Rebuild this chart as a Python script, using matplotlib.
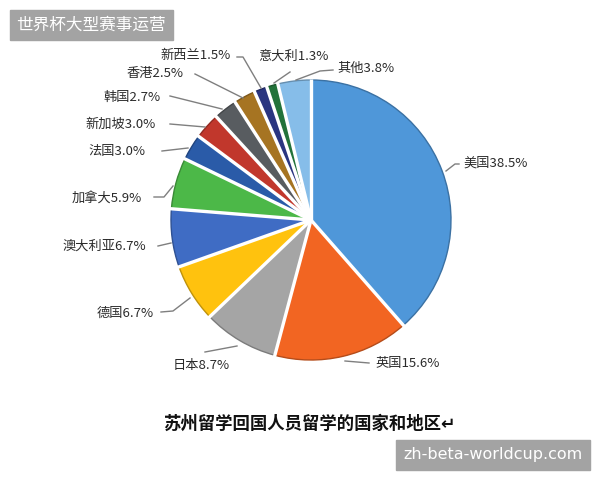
import matplotlib
matplotlib.use("Agg")
import matplotlib.pyplot as plt
import numpy as np
from matplotlib.patches import Rectangle
from matplotlib.colors import to_rgb

plt.rcParams['font.family'] = ['Noto Sans CJK SC', 'DejaVu Sans']

# data (clockwise from 12 o'clock)
countries = ["美国", "英国", "日本", "德国", "澳大利亚", "加拿大", "法国",
             "新加坡", "韩国", "香港", "新西兰", "意大利", "其他"]
shares = [38.5, 15.6, 8.7, 6.7, 6.7, 5.9, 3.0, 3.0, 2.7, 2.5, 1.5, 1.3, 3.8]
colors = ["#4f97d9", "#f26522", "#a5a5a5", "#ffc20e", "#3f6cc4", "#4cb848",
          "#2a5ba8", "#c1372c", "#585c60", "#a67422", "#2a3580", "#22723a",
          "#86bde9"]
title = "苏州留学回国人员留学的国家和地区"

# label placement in pixels: text left x, text y, leader line points
label_pos = [
    (463, 163, [(446, 171), (455, 164), (459, 164)]),
    (376, 363, [(345, 361), (369, 363)]),
    (173, 366, [(237, 346), (205, 352)]),
    (97, 313, [(190, 298), (173, 311), (161, 312)]),
    (63, 246, [(171, 243), (158, 246)]),
    (72, 198, [(173, 186), (164, 197), (154, 197)]),
    (88, 152, [(188, 148), (162, 151)]),
    (85, 124, [(205, 127), (170, 124)]),
    (103, 97, [(222, 109), (170, 96)]),
    (127, 74, [(243, 98), (195, 74)]),
    (160, 56, [(261, 88), (243, 57), (237, 57)]),
    (258, 56, [(274, 83), (290, 72)]),
    (337, 68, [(296, 80), (320, 71), (333, 70)]),
]

W, H = 600, 480
fig = plt.figure(figsize=(6, 4.8), dpi=100)
ax = fig.add_axes([0, 0, 1, 1])

cx, cy, r = 311, 220, 140
dark = [tuple(c * 0.75 for c in to_rgb(col)) for col in colors]
wedges, _ = ax.pie(shares, colors=colors, startangle=90, counterclock=False,
                   center=(cx, H - cy), radius=r,
                   wedgeprops=dict(linewidth=1.0))
for w, d in zip(wedges, dark):
    w.set_edgecolor(d)

# white separators between slices (radial only)
for w in wedges:
    a = np.deg2rad(w.theta2)
    ax.plot([cx, cx + (r + 1.5) * np.cos(a)], [H - cy, H - cy + (r + 1.5) * np.sin(a)],
            color="white", lw=2.4, solid_capstyle="butt")
ax.set_xlim(0, W)
ax.set_ylim(0, H)
ax.axis("off")

for name, val, (tx, ty, pts) in zip(countries, shares, label_pos):
    xs = [p[0] for p in pts]
    ys = [H - p[1] for p in pts]
    ax.plot(xs, ys, color="#7f7f7f", lw=1.0)
    ax.text(tx, H - ty, name + "%.1f%%" % val, fontsize=9.5, color="#2b2b2b",
            ha="left", va="center")

# chart caption
ax.text(163, H - 424, title + "↵", fontsize=12.5, fontweight="bold",
        color="#111111", ha="left", va="center")

# watermark boxes
ax.add_patch(Rectangle((10, H - 40), 163, 30, color="#a3a3a3", zorder=5))
ax.text(91, H - 25, "世界杯大型赛事运营", fontsize=12, color="white",
        ha="center", va="center", zorder=6)
ax.add_patch(Rectangle((396, H - 470), 194, 30, color="#a3a3a3", zorder=5))
ax.text(493, H - 455, "zh-beta-worldcup.com", fontsize=11.5, color="white",
        family="DejaVu Sans", ha="center", va="center", zorder=6)

fig.savefig("out.png", dpi=100)
